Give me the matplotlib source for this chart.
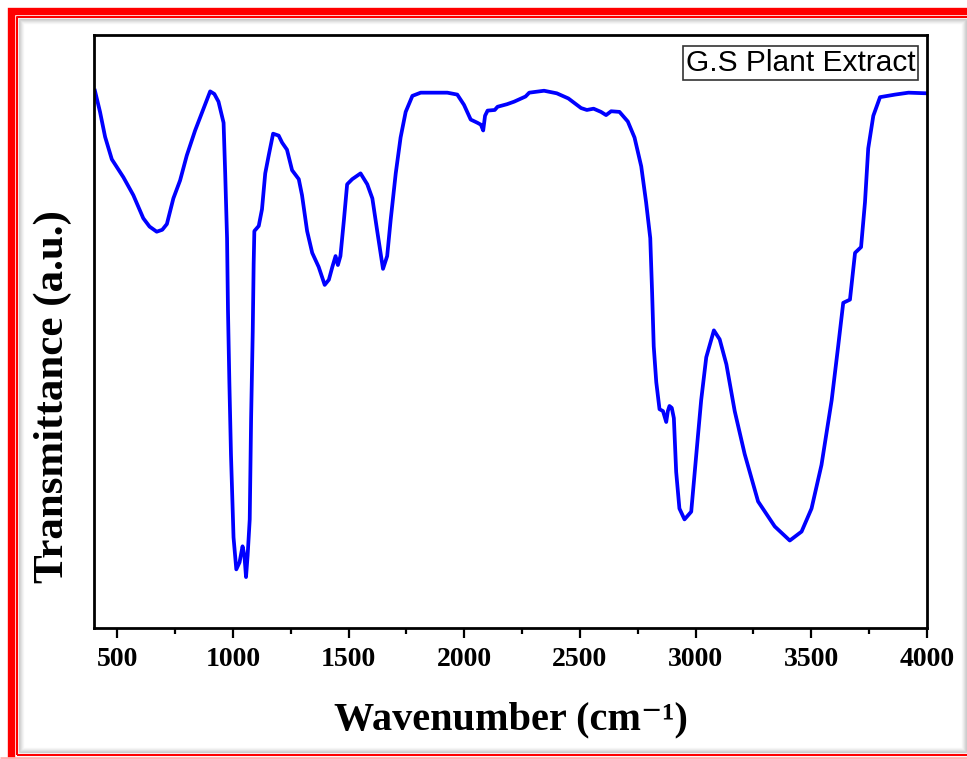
import numpy as np
import matplotlib
matplotlib.use("Agg")
import matplotlib.pyplot as plt
from matplotlib.lines import Line2D
from matplotlib.ticker import MultipleLocator

plt.rcParams['font.family'] = ['Liberation Serif', 'DejaVu Serif']

# FTIR spectrum (transmittance in arbitrary units)
wavenumber = [404, 426, 448, 477, 527, 570, 613, 640, 671, 695, 715, 743, 772, 801, 837, 873,
              902, 920, 938, 960, 967, 975, 979, 985, 992, 1003, 1015, 1029, 1042, 1050, 1057,
              1064, 1073, 1079, 1086, 1090, 1093, 1112, 1126, 1140, 1155, 1174, 1198, 1213,
              1234, 1256, 1285, 1299, 1321, 1343, 1371, 1397, 1415, 1430, 1444, 1454, 1465,
              1480, 1494, 1516, 1552, 1581, 1603, 1624, 1649, 1667, 1682, 1704, 1725, 1747,
              1776, 1812, 1927, 1970, 1999, 2028, 2057, 2072, 2082, 2090, 2101, 2132, 2144,
              2185, 2216, 2265, 2281, 2345, 2400, 2450, 2505, 2530, 2559, 2591, 2613, 2635,
              2671, 2707, 2736, 2765, 2786, 2804, 2812, 2819, 2830, 2844, 2859, 2873, 2880,
              2887, 2897, 2906, 2916, 2930, 2952, 2981, 2996, 3010, 3024, 3046, 3079, 3104,
              3133, 3169, 3212, 3270, 3342, 3407, 3458, 3501, 3544, 3588, 3616, 3638, 3667,
              3689, 3715, 3732, 3746, 3768, 3797, 3862, 3920, 3999]
transmittance = [90.7, 87.4, 83.5, 80.0, 77.2, 74.4, 70.8, 69.5, 68.7, 69.0, 69.9, 73.9, 76.7,
                 80.6, 84.5, 87.9, 90.6, 90.2, 89.0, 85.7, 77.8, 67.7, 56.5, 45.2, 33.9, 21.0,
                 16.0, 17.1, 19.6, 18.2, 14.8, 18.2, 23.8, 39.6, 53.1, 63.7, 68.8, 69.6, 72.2,
                 77.8, 80.6, 84.0, 83.7, 82.6, 81.5, 78.3, 76.9, 74.4, 68.8, 65.4, 63.2, 60.4,
                 61.2, 63.2, 64.9, 63.5, 64.9, 70.5, 76.1, 76.9, 77.8, 76.1, 73.9, 68.8, 62.9,
                 64.9, 70.5, 77.8, 83.4, 87.4, 89.9, 90.4, 90.4, 90.1, 88.5, 86.2, 85.7, 85.4,
                 84.5, 86.8, 87.6, 87.7, 88.2, 88.6, 89.0, 89.8, 90.4, 90.7, 90.3, 89.5, 88.0,
                 87.7, 87.9, 87.4, 86.9, 87.5, 87.4, 85.9, 83.4, 78.9, 73.3, 67.7, 59.2, 50.8,
                 45.2, 41.0, 40.7, 39.0, 40.7, 41.5, 41.2, 39.6, 31.2, 25.5, 23.8, 25.0, 31.2,
                 36.8, 42.4, 49.1, 53.3, 51.9, 48.0, 40.7, 34.0, 26.6, 22.7, 20.5, 21.9, 25.5,
                 32.3, 42.4, 50.8, 57.6, 58.1, 65.4, 66.3, 73.3, 81.7, 86.8, 89.7, 90.1, 90.4,
                 90.3]
sample = "G.S Plant Extract"

W, H = 967, 759
fig = plt.figure(figsize=(W / 100, H / 100), dpi=100)


def px_line(xs, ys, **kw):
    # polyline in image pixel coords (y from top)
    fig.add_artist(Line2D([x / W for x in xs], [1 - y / H for y in ys],
                          transform=fig.transFigure, solid_capstyle='butt', **kw))


# red frame (right and bottom thick part cut off), grey shadow inside
px_line([10.5, 10.5, 967], [759, 10.5, 10.5], color='red', linewidth=5.3,
        solid_joinstyle='miter')
px_line([16.5, 16.5, 967], [754.5, 16.5, 16.5], color='red', linewidth=1.5)
px_line([16.5, 967], [754.5, 754.5], color='red', linewidth=1.5)
px_line([0, 967], [757.5, 757.5], color='#ffb0b0', linewidth=2)
for i, a in enumerate([0.35, 0.25, 0.17, 0.1, 0.05]):
    px_line([18.5 + i, 18.5 + i, 966 - i, 966 - i, 18.5 + i],
            [752 - i, 18.5 + i, 18.5 + i, 752 - i, 752 - i],
            color='grey', linewidth=1, alpha=a)

ax = fig.add_axes([94 / W, 1 - 628 / H, (927 - 94) / W, (628 - 35) / H])
ax.plot(wavenumber, transmittance, color='#0000ff', linewidth=2.7)

ax.set_xlim(400, 4000)
ax.set_ylim(6.85, 99.4)
ax.set_xticks([500, 1000, 1500, 2000, 2500, 3000, 3500, 4000])
ax.xaxis.set_minor_locator(MultipleLocator(250))
ax.tick_params(axis='x', which='major', direction='out', length=7, width=1.6,
               labelsize=20, pad=7)
ax.tick_params(axis='x', which='minor', direction='out', length=4, width=1.6)
ax.tick_params(axis='y', left=False, labelleft=False)
for lab in ax.get_xticklabels():
    lab.set_fontweight('bold')
for s in ax.spines.values():
    s.set_linewidth(2)

ax.set_xlabel("Wavenumber (cm\u207b\u00b9)", fontsize=29, fontweight='bold', labelpad=21)
ax.text(-0.049, 0.39, "Transmittance (a.u.)", transform=ax.transAxes, rotation=90,
        ha='center', va='center', fontsize=31, fontweight='bold')

ax.text(0.986, 0.977, sample, transform=ax.transAxes, ha='right', va='top',
        fontsize=21.5, family=['Liberation Sans', 'DejaVu Sans'],
        bbox=dict(boxstyle='square,pad=0.1', facecolor='white', edgecolor='#333333',
                  linewidth=1.2))

fig.savefig("out.png", dpi=100)
